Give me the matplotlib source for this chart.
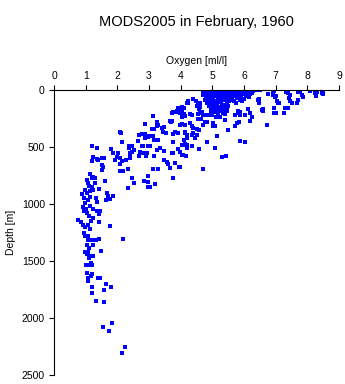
import matplotlib
matplotlib.use('Agg')
import matplotlib.pyplot as plt

plt.rcParams['font.family'] = ['Liberation Sans', 'DejaVu Sans']

# Oxygen [ml/l], depth [m], grouped by depth band
surface_core = [
    (4.72, 5), (4.80, 12), (4.88, 3), (4.95, 8), (5.02, 2), (5.08, 15), (5.12, 5), (5.18, 10),
    (5.25, 3), (5.30, 18), (5.35, 7), (5.42, 12), (5.48, 2), (5.55, 9), (5.60, 16), (5.66, 4),
    (5.72, 11), (5.78, 6), (5.85, 14), (5.90, 3), (5.96, 9), (6.02, 5), (6.08, 13), (6.15, 4),
    (6.22, 10), (6.30, 6), (4.76, 22), (4.85, 30), (4.92, 25), (5.00, 35), (5.05, 28), (5.14, 40),
    (5.20, 24), (5.27, 33), (5.33, 45), (5.40, 27), (5.46, 38), (5.52, 22), (5.58, 42), (5.64, 30),
    (5.70, 36), (5.76, 25), (5.82, 44), (5.88, 31), (5.94, 22), (6.00, 39), (6.06, 28), (6.12, 47),
    (6.18, 33), (6.25, 26), (4.80, 55), (4.90, 60), (4.97, 48), (5.03, 66), (5.10, 52), (5.17, 75),
    (5.22, 58), (5.29, 68), (5.36, 55), (5.43, 72), (5.50, 60), (5.57, 80), (5.63, 64), (5.70, 52),
    (5.77, 70), (5.84, 58), (5.92, 66), (6.00, 75), (6.05, 55), (6.15, 62), (4.85, 90), (4.92, 100),
    (4.98, 85), (5.04, 110), (5.10, 95), (5.16, 120), (5.22, 88), (5.28, 105), (5.34, 128),
    (5.40, 92), (5.47, 115), (5.53, 100), (5.60, 85), (5.68, 95), (5.75, 110), (5.86, 90),
    (5.95, 100), (4.88, 140), (4.95, 150), (5.02, 135), (5.08, 160), (5.14, 145), (5.20, 170),
    (5.26, 150), (5.32, 138), (5.38, 160), (4.97, 180), (5.05, 195), (5.12, 175), (5.18, 200),
    (5.25, 185), (5.33, 205), (5.44, 150), (5.50, 140), (4.90, 120), (4.83, 110),
]

surface_right = [
    (6.40, 0), (6.50, 2), (6.77, 35), (6.90, 6), (6.93, 44), (6.98, 64), (7.03, 94), (7.11, 110),
    (7.00, 53), (7.33, 15), (7.40, 29), (7.45, 44), (7.42, 73), (7.45, 94), (7.29, 160), (7.40, 160),
    (7.77, 15), (7.82, 44), (7.85, 59), (7.71, 88), (7.68, 110), (8.10, 6), (8.29, 15), (8.27, 53),
    (8.50, 6), (8.48, 35), (6.46, 82), (6.47, 110), (6.96, 10), (7.51, 114), (7.03, 99), (7.08, 114),
    (7.70, 20), (8.08, 8), (8.25, 30), (8.47, 25), (6.96, 160), (6.96, 200),
]

upper = [
    (3.93, 160), (4.03, 160), (4.10, 160), (3.77, 195), (3.85, 190), (3.72, 205), (3.98, 205),
    (4.10, 210), (3.12, 225), (2.87, 300), (3.26, 285), (3.29, 305), (3.24, 320), (3.69, 280),
    (3.98, 305), (4.15, 305), (3.08, 345), (3.17, 345), (3.40, 335), (3.48, 325), (3.45, 365),
    (3.54, 380), (3.82, 365), (3.93, 375), (4.14, 365), (2.12, 380), (2.69, 395), (2.90, 410),
    (2.98, 415), (2.87, 425), (2.08, 370), (2.77, 390), (2.87, 390), (2.93, 405), (3.03, 405),
    (3.14, 405), (3.66, 275), (3.72, 270), (3.93, 380), (3.77, 390), (4.14, 375), (4.19, 395),
    (4.35, 395), (4.40, 380), (4.51, 395), (4.45, 425), (4.19, 425), (4.38, 335), (4.51, 345),
    (4.59, 350), (4.29, 290), (4.35, 320), (4.03, 300), (4.03, 235), (4.14, 230), (4.03, 145),
    (4.19, 110), (4.24, 110), (4.40, 80), (4.48, 95), (4.53, 140), (4.61, 115), (4.59, 170),
    (4.66, 190), (4.61, 205), (4.56, 255), (4.63, 250), (4.77, 280), (4.72, 305), (4.82, 285),
    (5.03, 290), (5.08, 320), (5.01, 320), (4.93, 220), (4.82, 215), (5.35, 170), (5.40, 210),
    (5.45, 175), (5.12, 240), (5.24, 235), (4.08, 160), (3.98, 165), (4.24, 100), (4.03, 195),
    (3.87, 185), (4.29, 210), (4.35, 215), (4.56, 210), (4.64, 195), (4.72, 215), (4.87, 215),
    (4.98, 215), (4.61, 145), (4.54, 115), (4.72, 40), (4.77, 85), (5.82, 205), (5.87, 190),
    (5.77, 290), (5.85, 285), (5.72, 315), (5.40, 265), (5.48, 355), (5.14, 405), (6.14, 170),
    (6.19, 205), (6.24, 240), (6.59, 170), (7.00, 205), (7.27, 205), (6.74, 305), (6.45, 85),
    (6.56, 175), (6.61, 185), (6.03, 215), (5.82, 185), (5.72, 215), (5.87, 220), (6.19, 275),
    (5.40, 145), (5.45, 185),
]

mid = [
    (1.21, 490), (1.35, 505), (1.87, 555), (2.03, 550), (1.22, 585), (1.35, 605), (1.40, 610),
    (1.51, 600), (1.59, 595), (1.98, 590), (2.08, 600), (2.14, 620), (2.26, 615), (1.24, 590),
    (1.19, 620), (1.93, 615), (2.08, 645), (1.51, 660), (1.54, 675), (1.14, 740), (1.19, 770),
    (1.24, 760), (1.03, 790), (1.52, 700), (1.29, 775), (1.08, 820), (1.29, 820), (1.61, 800),
    (1.11, 840), (1.19, 855), (1.43, 870), (0.87, 915), (0.98, 880), (1.03, 900), (1.14, 885),
    (1.24, 875), (1.66, 905), (1.71, 930), (1.77, 960), (1.64, 965), (1.87, 930), (0.96, 950),
    (1.08, 965), (1.14, 940), (1.33, 950), (1.37, 980), (0.98, 995), (0.93, 1025), (1.01, 1040),
    (1.14, 1020), (1.24, 1040), (1.35, 1060), (1.45, 1060), (1.42, 1090), (0.95, 1065),
    (1.03, 1080), (1.11, 1105), (1.24, 1120), (1.80, 520),
    (2.38, 490), (2.45, 495), (2.38, 510), (2.77, 490), (2.80, 495), (2.53, 525), (2.98, 495),
    (3.03, 490), (2.40, 555), (2.45, 540), (2.72, 540), (3.24, 530), (3.35, 510), (3.46, 535),
    (3.73, 550), (3.77, 555), (3.93, 520), (3.98, 540), (4.06, 570), (2.40, 560), (2.40, 600),
    (2.69, 580), (2.90, 580), (3.17, 580), (2.82, 550), (2.93, 550), (3.47, 615), (3.56, 630),
    (3.61, 645), (3.66, 685), (3.82, 640), (3.96, 675), (2.08, 710), (2.17, 710), (2.35, 695),
    (2.96, 755), (3.14, 695), (3.29, 695), (3.77, 775), (2.46, 775), (2.54, 815), (2.85, 800),
    (2.98, 805), (2.53, 820), (3.19, 825), (2.35, 860), (2.98, 855), (3.03, 855), (4.03, 480),
    (4.14, 475), (4.19, 510), (4.35, 490), (4.03, 570), (4.17, 575), (4.59, 520), (4.82, 460),
    (5.08, 505), (5.87, 445), (6.03, 455), (5.30, 585), (5.43, 575), (3.98, 675), (4.72, 695),
    (3.77, 460), (4.10, 440), (4.19, 425), (4.06, 480), (4.19, 480), (3.29, 440), (3.17, 440),
    (2.14, 455), (2.66, 445),
]

deep = [
    (0.75, 1140), (0.85, 1155), (1.16, 1150), (1.43, 1155), (1.77, 1195), (0.93, 1185),
    (1.08, 1185), (0.98, 1200), (1.14, 1215), (0.95, 1250), (0.99, 1280), (1.08, 1280),
    (2.19, 1310), (1.08, 1320), (1.19, 1315), (1.33, 1315), (1.43, 1310), (1.24, 1360),
    (1.03, 1360), (1.11, 1390), (1.48, 1410), (0.98, 1420), (1.06, 1420), (1.03, 1440),
    (1.14, 1460), (1.24, 1460), (1.11, 1475), (1.00, 1535), (1.08, 1535), (1.16, 1520),
    (1.19, 1535), (1.03, 1605), (1.19, 1610), (1.16, 1630), (1.08, 1650), (1.06, 1675),
    (1.40, 1650), (1.46, 1645), (1.63, 1705), (1.80, 1725), (1.21, 1730), (1.57, 1750),
    (1.21, 1785), (1.34, 1850), (1.59, 1860), (1.82, 2040), (1.56, 2075), (1.75, 2115),
    (2.24, 2250), (2.14, 2310),
]

x_ticks = [0, 1, 2, 3, 4, 5, 6, 7, 8, 9]
y_ticks = [0, 500, 1000, 1500, 2000, 2500]

points = surface_core + surface_right + upper + mid + deep
oxygen = [p[0] for p in points]
depth = [p[1] for p in points]

fig = plt.figure(figsize=(3.45, 3.84), dpi=100)
ax = fig.add_axes([54 / 345, 9 / 384, 285 / 345, 285 / 384])

ax.scatter(oxygen, depth, marker='s', s=5, color='#0000ff', linewidths=0)

ax.set_xlim(0, 9)
ax.set_ylim(2500, 0)
ax.set_xticks(x_ticks)
ax.set_yticks(y_ticks)
ax.xaxis.tick_top()
ax.xaxis.set_label_position('top')
ax.spines['right'].set_visible(False)
ax.spines['bottom'].set_visible(False)
for s in ['top', 'left']:
    ax.spines[s].set_linewidth(0.8)
ax.tick_params(direction='out', length=3.6, width=0.8, labelsize=7.5, pad=3)
ax.set_xlabel('Oxygen [ml/l]', fontsize=7.5, labelpad=5)
ax.set_ylabel('Depth [m]', fontsize=7.5, labelpad=4)

fig.text(196.5 / 345, 1 - 22 / 384, 'MODS2005 in February, 1960', fontsize=10.5,
         ha='center', va='center')

fig.savefig('out.png', dpi=100)
